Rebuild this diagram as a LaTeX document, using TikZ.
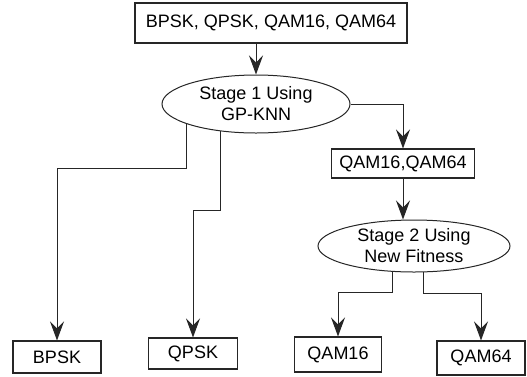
\documentclass[tikz,border=0pt]{standalone}
\usepackage{fontspec}
\setmainfont{Liberation Sans}
\usepackage{tikz}
\usetikzlibrary{shapes.geometric, arrows.meta}
\tikzset{
  mcbox/.style={rectangle, draw=black!85, line width=1.1pt, fill=white,
                inner sep=0pt, font=\fontsize{18}{21}\selectfont},
  mcstage/.style={ellipse, draw=black!85, line width=1pt, fill=white,
                  inner sep=0pt, align=center,
                  font=\fontsize{18}{21}\selectfont},
  mclink/.style={draw=black!85, line width=1pt,
                 -{Stealth[length=19pt, width=14pt, inset=7pt]}}
}

\begin{document}
\begin{tikzpicture}[x=1pt, y=-1pt]
  \useasboundingbox (0,0) rectangle (527,376);
  % input set and the two stages
  \node[mcbox, minimum width=272, minimum height=40] (all) at (271, 23)
    {BPSK, QPSK, QAM16, QAM64};
  \node[mcstage, minimum width=188, minimum height=58] (s1) at (256, 104)
    {Stage 1 Using\\GP-KNN};
  \node[mcbox, minimum width=143, minimum height=29] (qam) at (403, 163.5)
    {QAM16,QAM64};
  \node[mcstage, minimum width=192, minimum height=52] (s2) at (414, 246)
    {Stage 2 Using\\New Fitness};
  % final classes
  \node[mcbox, minimum width=88, minimum height=32] (bpsk) at (57, 357) {BPSK};
  \node[mcbox, minimum width=89, minimum height=31] (qpsk) at (193, 353.5) {QPSK};
  \node[mcbox, minimum width=87, minimum height=35] (q16) at (338, 354.5) {QAM16};
  \node[mcbox, minimum width=88, minimum height=34] (q64) at (481, 358) {QAM64};

  \draw[mclink] (s1.north |- all.south) -- (s1.north);
  \draw[mclink] (s1.east) -| (qam.north);
  \draw[mclink] (s1.196) -- ++(0,45) -| (bpsk.north);
  \draw[mclink] (s1.218) -- ++(0,79) -| (qpsk.north);
  \draw[mclink] (qam.south) -- (s2.north -| qam.south);
  \draw[mclink] (s2.230) -- ++(0,21) -| (q16.north);
  \draw[mclink] (s2.289) -- ++(0,21) -| (q64.north);
\end{tikzpicture}
\end{document}
